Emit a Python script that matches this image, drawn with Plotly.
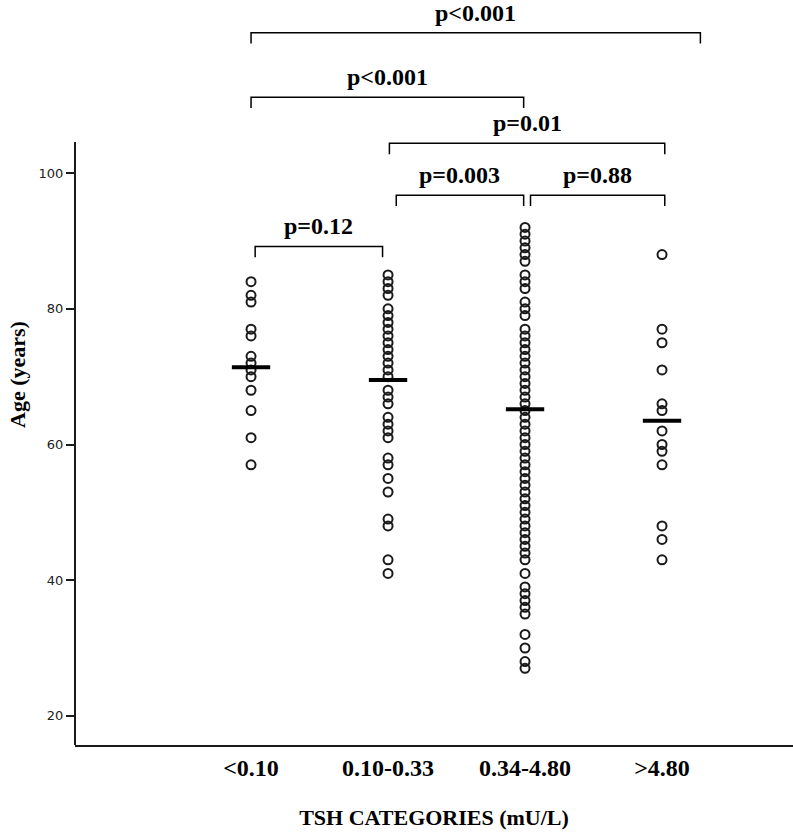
import plotly.graph_objects as go

# ---- data ----
categories = ["<0.10", "0.10-0.33", "0.34-4.80", ">4.80"]

age_lt010 = [84, 82, 81, 77, 76, 73, 72, 71, 70, 68, 65, 61, 57]
age_010_033 = [85, 84, 83, 82, 80, 79, 78, 77, 76, 75, 74, 73, 72, 71, 70,
               68, 67, 66, 64, 63, 62, 61, 58, 57, 55, 53, 49, 48, 43, 41]
age_034_480 = [92, 91, 90, 89, 88, 87, 85, 84, 83, 81, 80, 79,
               77, 76, 75, 74, 73, 72, 71, 70, 69, 68, 67, 66, 65, 64, 63, 62,
               61, 60, 59, 58, 57, 56, 55, 54, 53, 52, 51, 50, 49, 48, 47, 46,
               45, 44, 43, 41, 39, 38, 37, 36, 35, 32, 30, 28, 27]
age_gt480 = [88, 77, 75, 71, 66, 65, 62, 60, 59, 57, 48, 46, 43]
groups = [age_lt010, age_010_033, age_034_480, age_gt480]

group_means = [71.4, 69.5, 65.2, 63.5]

# comparison brackets (category positions, height in years)
p_labels = ["p<0.001", "p<0.001", "p=0.01", "p=0.003", "p=0.88", "p=0.12"]
bracket_left = [0.0, 0.0, 1.01, 1.06, 2.04, 0.03]
bracket_right = [3.28, 1.99, 3.02, 1.99, 3.02, 0.96]
bracket_y = [120.7, 111.2, 104.4, 96.75, 96.75, 89.2]

y_ticks = [20, 40, 60, 80, 100]

SERIF = "Liberation Serif"
INK = "#1a1a1a"

fig = go.Figure()

# individual ages, one column per TSH category
for i, ages in enumerate(groups):
    fig.add_trace(go.Scatter(
        x=[i] * len(ages), y=ages, mode="markers",
        marker=dict(symbol="circle-open", size=9, color=INK, line=dict(width=2, color=INK)),
        showlegend=False, hoverinfo="y"))

# mean bars
mx, my = [], []
for i, m in enumerate(group_means):
    mx += [i - 0.14, i + 0.14, None]
    my += [m, m, None]
fig.add_trace(go.Scatter(x=mx, y=my, mode="lines", line=dict(color="black", width=4),
                         showlegend=False, hoverinfo="skip"))

# brackets
drop = 1.6
bx, by = [], []
for x0, x1, yb in zip(bracket_left, bracket_right, bracket_y):
    bx += [x0, x0, x1, x1, None]
    by += [yb - drop, yb, yb, yb - drop, None]
fig.add_trace(go.Scatter(x=bx, y=by, mode="lines", line=dict(color="black", width=1.5),
                         showlegend=False, hoverinfo="skip"))

for lab, x0, x1, yb in zip(p_labels, bracket_left, bracket_right, bracket_y):
    fig.add_annotation(x=(x0 + x1) / 2, y=yb, text="<b>%s</b>" % lab, showarrow=False,
                       yanchor="middle", yshift=20,
                       font=dict(family=SERIF, size=24, color="black"))

# y axis line stops at the top of the data area
fig.add_shape(type="line", xref="paper", yref="y", x0=0, x1=0, y0=15.7, y1=104.6,
              line=dict(color=INK, width=2))

fig.update_layout(
    width=793, height=835,
    margin=dict(l=75, r=0, t=4, b=90),
    paper_bgcolor="white", plot_bgcolor="white",
    xaxis=dict(range=[-1.285, 3.956], tickvals=[0, 1, 2, 3], automargin=False,
               ticktext=["<b>%s</b>" % c for c in categories],
               tickfont=dict(family=SERIF, size=24, color="black"),
               showgrid=False, zeroline=False, showline=True, linecolor=INK, linewidth=2,
               ticks="", title=dict(text="<b>TSH CATEGORIES (mU/L)</b>",
                                    font=dict(family=SERIF, size=22, color="black"),
                                    standoff=30)),
    yaxis=dict(range=[15.7, 124.94], tickvals=y_ticks, automargin=False,
               tickfont=dict(family="DejaVu Sans", size=13, color="#222"),
               showgrid=False, zeroline=False, showline=False,
               ticks="outside", ticklen=8, tickwidth=2, tickcolor=INK,
               title=dict(text="<b>Age (years)</b>",
                          font=dict(family=SERIF, size=22, color="black"),
                          standoff=6)),
)

# drop the default 8px page margin so the figure fills the window
fig.write_html("out.html", config={"displayModeBar": False},
               post_script="document.body.style.margin='0';")
